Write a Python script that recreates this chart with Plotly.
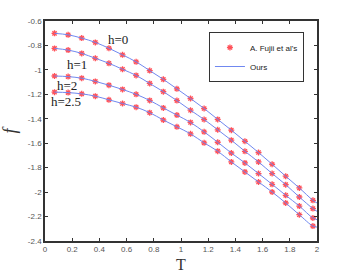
import plotly.graph_objects as go

T = [0.07, 0.17, 0.27, 0.37, 0.47, 0.57, 0.67, 0.77, 0.87, 0.97,
     1.07, 1.17, 1.27, 1.37, 1.47, 1.57, 1.67, 1.77, 1.87, 1.97]

fujii_h0 = [-0.701, -0.713, -0.740, -0.775, -0.823, -0.877, -0.934, -1.006, -1.077, -1.155,
            -1.234, -1.316, -1.405, -1.493, -1.584, -1.676, -1.772, -1.870, -1.966, -2.067]
fujii_h1 = [-0.824, -0.838, -0.865, -0.905, -0.946, -0.995, -1.045, -1.111, -1.178, -1.251,
            -1.330, -1.406, -1.490, -1.575, -1.666, -1.753, -1.848, -1.939, -2.040, -2.135]
fujii_h2 = [-1.050, -1.055, -1.068, -1.094, -1.125, -1.160, -1.200, -1.250, -1.311, -1.370,
            -1.430, -1.507, -1.592, -1.680, -1.761, -1.848, -1.936, -2.026, -2.114, -2.212]
fujii_h25 = [-1.182, -1.186, -1.196, -1.215, -1.245, -1.275, -1.305, -1.350, -1.410, -1.466,
             -1.523, -1.597, -1.665, -1.753, -1.835, -1.917, -1.999, -2.089, -2.185, -2.278]

T_ours = T + [2.0]
ours_h0 = fujii_h0 + [-2.089]
ours_h1 = fujii_h1 + [-2.157]
ours_h2 = fujii_h2 + [-2.225]
ours_h25 = fujii_h25 + [-2.286]

curve_labels = ["h=0", "h=1", "h=2", "h=2.5"]
label_T = [0.537, 0.233, 0.162, 0.157]
label_f = [-0.748, -0.952, -1.125, -1.262]

x_ticks = [0, 0.2, 0.4, 0.6, 0.8, 1, 1.2, 1.4, 1.6, 1.8, 2]
x_tick_text = ["0", "0.2", "0.4", "0.6", "0.8", "1", "1.2", "1.4", "1.6", "1.8", "2"]
y_ticks = [-0.6, -0.8, -1, -1.2, -1.4, -1.6, -1.8, -2, -2.2, -2.4]
y_tick_text = ["-0.6", "-0.8", "-1", "-1.2", "-1.4", "-1.6", "-1.8", "-2", "-2.2", "-2.4"]

fig = go.Figure()

fujii = [fujii_h0, fujii_h1, fujii_h2, fujii_h25]
ours = [ours_h0, ours_h1, ours_h2, ours_h25]

for i, ys in enumerate(fujii):
    fig.add_trace(go.Scatter(
        x=T, y=ys, mode="markers",
        marker=dict(symbol="asterisk-open", size=5, color="rgba(255,50,60,0.85)",
                    line=dict(color="rgba(255,50,60,0.75)", width=1.3)),
        name="A. Fujii et al's", showlegend=(i == 0),
    ))

for i, ys in enumerate(ours):
    fig.add_trace(go.Scatter(
        x=T_ours, y=ys, mode="lines", line=dict(color="#7088f0", width=1, shape="spline"),
        name="Ours", showlegend=(i == 0),
    ))

for lab, lx, ly in zip(curve_labels, label_T, label_f):
    fig.add_annotation(x=lx, y=ly, text=lab, showarrow=False, borderpad=0,
                       font=dict(family="Liberation Serif", size=13, color="#222"))

axis_common = dict(showgrid=False, zeroline=False, showline=True, linecolor="#333",
                   linewidth=1.5, mirror="ticks", ticks="inside", ticklen=3,
                   tickcolor="#333", tickwidth=1.2, automargin=False,
                   tickfont=dict(family="Liberation Sans", size=8, color="#555"))

fig.update_layout(
    width=350, height=273,
    margin=dict(l=45, r=33, t=21, b=32),
    paper_bgcolor="white", plot_bgcolor="white",
    xaxis=dict(range=[0, 2], tickvals=x_ticks, ticktext=x_tick_text,
               title=dict(text="T", font=dict(family="Liberation Serif", size=16, color="#333")),
               **axis_common),
    yaxis=dict(range=[-2.4, -0.6], tickvals=y_ticks, ticktext=y_tick_text,
               title=dict(text="<i>f</i>", font=dict(family="Liberation Serif", size=18, color="#333")),
               **axis_common),
    legend=dict(x=0.952, y=0.95, xanchor="right", yanchor="top",
                bgcolor="white", bordercolor="#333", borderwidth=1,
                font=dict(family="Liberation Sans", size=8, color="#222"),
                itemwidth=30),
    showlegend=True,
)

fig.write_html("out.html", config={"displayModeBar": False},
               post_script="document.body.style.margin='0';")
